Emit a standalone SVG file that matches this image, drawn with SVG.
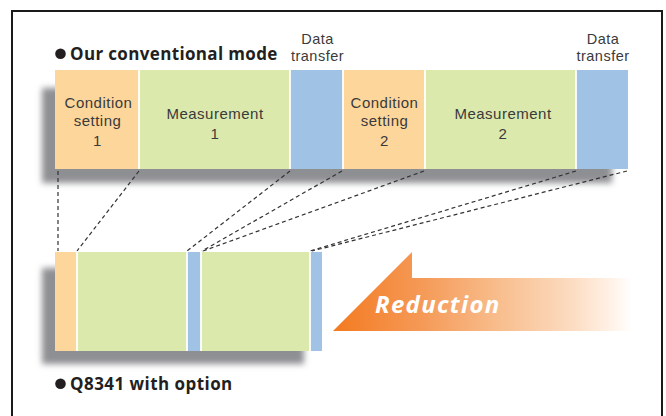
<svg xmlns="http://www.w3.org/2000/svg" width="666" height="416" viewBox="0 0 666 416">
<defs>
<filter id="blur" x="-10%" y="-30%" width="120%" height="160%"><feGaussianBlur stdDeviation="3"/></filter>
<linearGradient id="redgrad" gradientUnits="userSpaceOnUse" x1="333" y1="0" x2="632" y2="0">
<stop offset="0" stop-color="#f37a20"/>
<stop offset="0.3" stop-color="#f59a58"/>
<stop offset="0.55" stop-color="#f8bd8c"/>
<stop offset="0.8" stop-color="#fcdcc2"/>
<stop offset="0.92" stop-color="#fff0e4"/>
<stop offset="1" stop-color="#ffffff"/>
</linearGradient>
<style>
.or{fill:#fdd69c}
.gr{fill:#dce9ad}
.bl{fill:#9fc2e5}
.sep{stroke:#ffffff;stroke-width:1.8}
.shadow{fill:#8e8f93;filter:url(#blur)}
.lbl{font-family:"Liberation Sans",Arial,sans-serif;font-size:15px;letter-spacing:0.5px;fill:#3a3a3a;text-anchor:middle}
.dt{font-family:"Liberation Sans",Arial,sans-serif;font-size:14.5px;letter-spacing:0.5px;fill:#3a3a3a;text-anchor:middle}
.title{font-family:"Open Sans","DejaVu Sans",sans-serif;font-size:17px;font-weight:bold;fill:#231f20}
.dash{stroke:#333333;stroke-width:1.2;stroke-dasharray:4 3;fill:none}
</style>
</defs>
<rect x="0" y="0" width="666" height="416" fill="#ffffff"/>
<rect x="12" y="11" width="650" height="420" fill="none" stroke="#1a1a1a" stroke-width="2"/>

<g id="title-conventional">
<circle cx="60.5" cy="53.7" r="5.3" fill="#231f20"/>
<text class="title" x="70" y="60" letter-spacing="0.35">Our conventional mode</text>
</g>
<g id="title-q8341">
<circle cx="60.5" cy="383.8" r="5.3" fill="#231f20"/>
<text class="title" x="70" y="390" letter-spacing="0.45">Q8341 with option</text>
</g>

<g id="shadows">
<rect class="shadow" x="42" y="88" width="570" height="95"/>
<rect class="shadow" x="42" y="268" width="262" height="96"/>
</g>

<g id="top-bar">
<g id="cond1"><rect class="or" x="55" y="70" width="84" height="99"/>
<text class="lbl" x="98.5" y="108">Condition</text><text class="lbl" x="97.5" y="126">setting</text><text class="lbl" x="97.5" y="146">1</text></g>
<g id="meas1"><rect class="gr" x="139" y="70" width="151" height="99"/>
<text class="lbl" x="215" y="119">Measurement</text><text class="lbl" x="215" y="139">1</text></g>
<g id="data1"><rect class="bl" x="290" y="70" width="53" height="99"/>
<text class="dt" x="317.5" y="44">Data</text><text class="dt" x="317.5" y="61">transfer</text></g>
<g id="cond2"><rect class="or" x="343" y="70" width="82" height="99"/>
<text class="lbl" x="384.5" y="108">Condition</text><text class="lbl" x="384.5" y="126">setting</text><text class="lbl" x="384.5" y="146">2</text></g>
<g id="meas2"><rect class="gr" x="425" y="70" width="151" height="99"/>
<text class="lbl" x="503" y="119">Measurement</text><text class="lbl" x="503" y="139">2</text></g>
<g id="data2"><rect class="bl" x="576" y="70" width="52" height="99"/>
<text class="dt" x="603" y="44">Data</text><text class="dt" x="603" y="61">transfer</text></g>
<line class="sep" x1="139" y1="70" x2="139" y2="169"/>
<line class="sep" x1="290" y1="70" x2="290" y2="169"/>
<line class="sep" x1="343" y1="70" x2="343" y2="169"/>
<line class="sep" x1="425" y1="70" x2="425" y2="169"/>
<line class="sep" x1="576" y1="70" x2="576" y2="169"/>
</g>

<g id="bottom-bar">
<rect id="b-cond1" class="or" x="55" y="252" width="22" height="99"/>
<rect id="b-meas1" class="gr" x="77" y="252" width="110" height="99"/>
<rect id="b-data1" class="bl" x="187" y="252" width="14" height="99"/>
<rect id="b-meas2" class="gr" x="201" y="252" width="109" height="99"/>
<rect id="b-data2" class="bl" x="310" y="252" width="12" height="99"/>
<line class="sep" x1="77" y1="252" x2="77" y2="351"/>
<line class="sep" x1="187" y1="252" x2="187" y2="351"/>
<line class="sep" x1="201" y1="252" x2="201" y2="351"/>
<line class="sep" x1="310" y1="252" x2="310" y2="351"/>
</g>

<g id="connectors">
<line class="dash" x1="58" y1="171" x2="58" y2="251"/>
<line class="dash" x1="139" y1="171" x2="77" y2="251"/>
<line class="dash" x1="290" y1="171" x2="187" y2="251"/>
<line class="dash" x1="342" y1="171" x2="202" y2="251"/>
<line class="dash" x1="424" y1="171" x2="203" y2="251"/>
<line class="dash" x1="576" y1="171" x2="310" y2="251"/>
<line class="dash" x1="627" y1="171" x2="312" y2="251"/>
</g>

<g id="reduction-arrow">
<polygon points="333,331 412,252 412,278 632,278 632,331" fill="url(#redgrad)"/>
<text x="375" y="313" font-family="'Open Sans','DejaVu Sans',sans-serif" font-size="24" font-weight="bold" font-style="italic" letter-spacing="1.3" fill="#ffffff">Reduction</text>
</g>
</svg>
